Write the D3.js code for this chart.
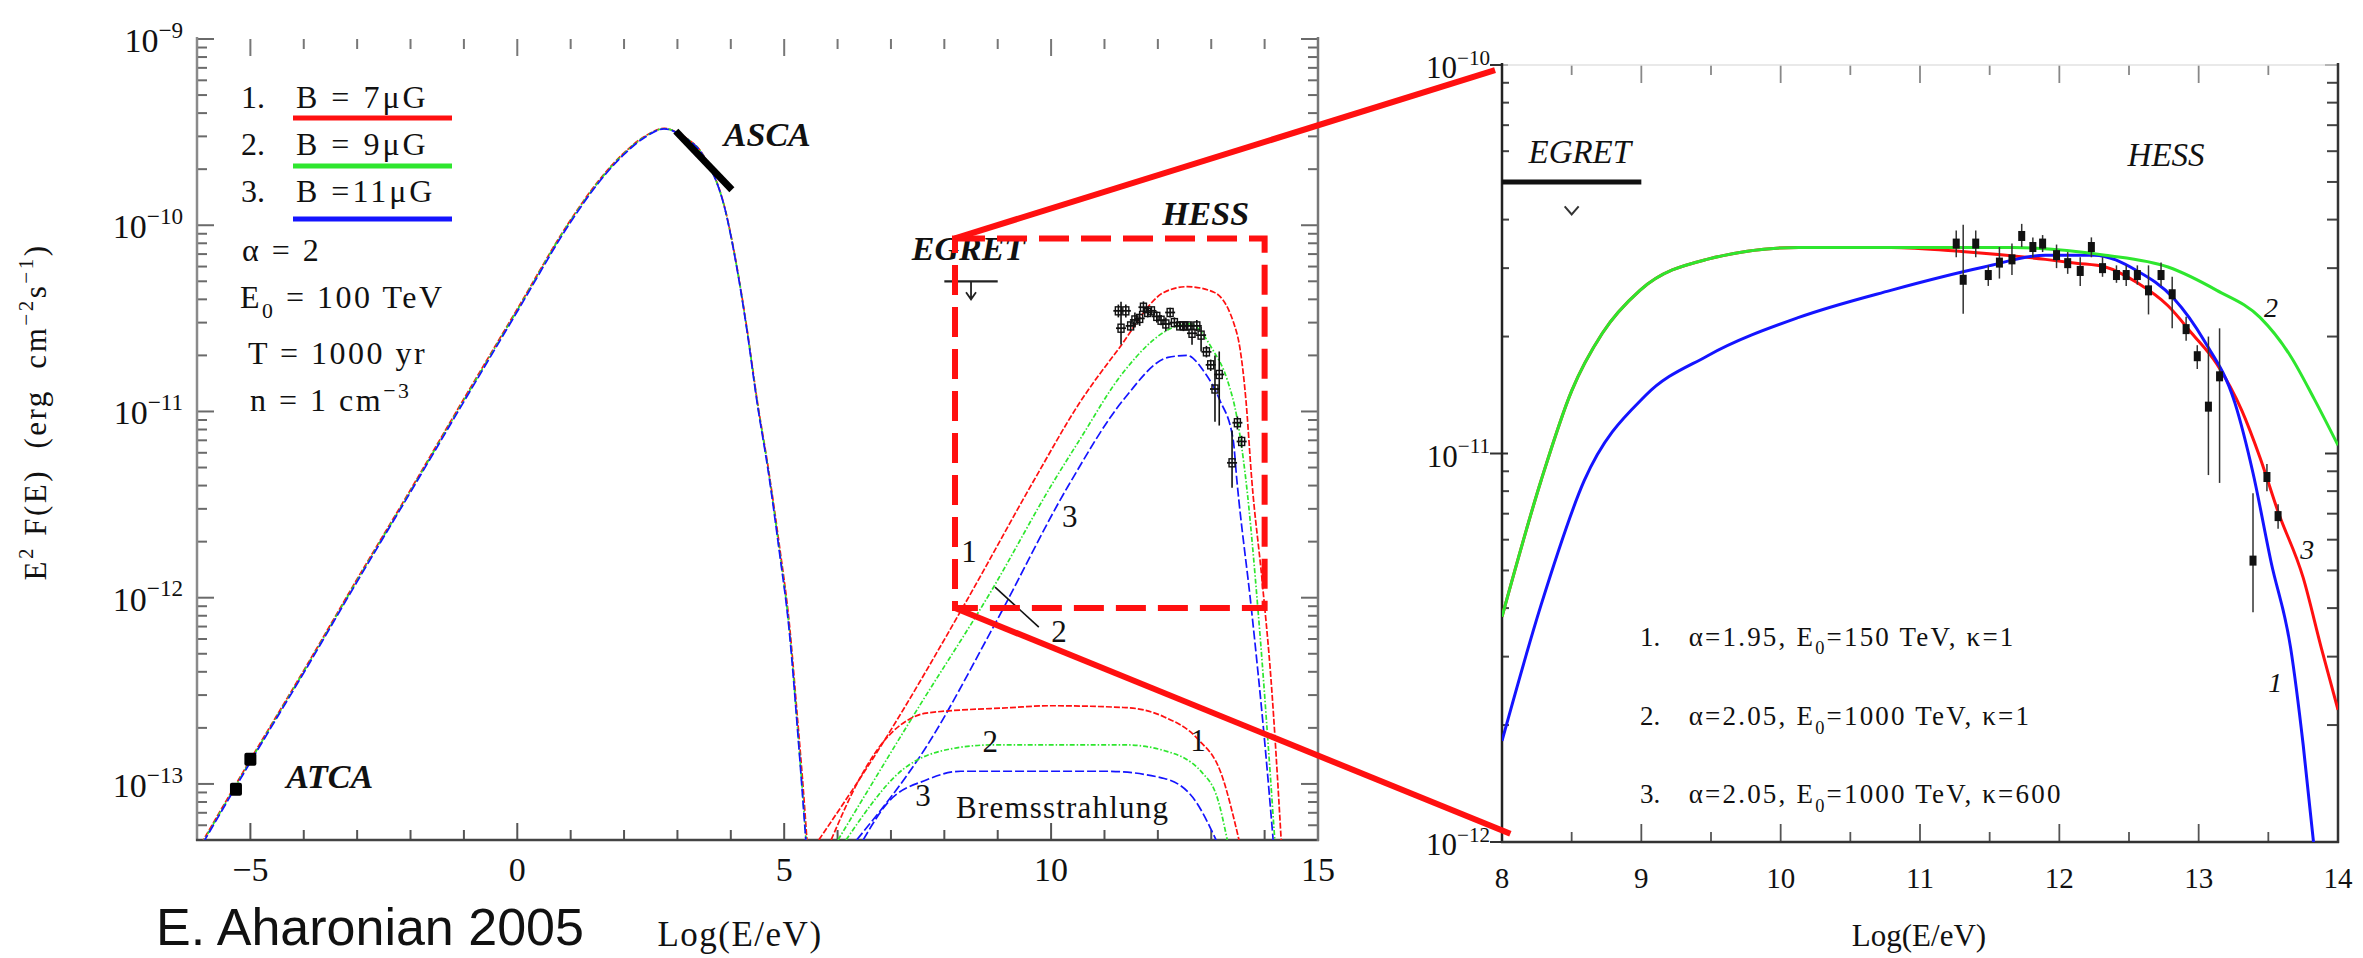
<!DOCTYPE html>
<html>
<head>
<meta charset="utf-8">
<script src="https://cdn.jsdelivr.net/npm/d3@7"></script>
<style>
  html, body { margin: 0; padding: 0; background: #fff; }
  svg { display: block; }
  text { font-family: "Liberation Serif", "Times New Roman", serif; fill: #111; white-space: pre; }
</style>
</head>
<body>
<svg id="fig" width="2363" height="958"></svg>
<script>
// ---------------- data (x: log10(E/eV), y: E^2 F(E) in erg cm^-2 s^-1) ----------------

// synchrotron component for the three field strengths
const syncLogE = [-6, -5, -4, -3, -2, -1, 0, 1.0, 1.5, 2.0, 2.4, 2.75, 3.1, 3.5, 3.9, 4.1, 4.3, 4.5, 4.7, 4.9, 5.1, 5.25, 5.35, 5.45];
const syncB7  = [4.37e-14, 1.35e-13, 4.07e-13, 1.26e-12, 3.80e-12, 1.17e-11, 3.55e-11, 1.07e-10, 1.70e-10, 2.45e-10, 3.02e-10, 3.31e-10, 3.02e-10, 2.34e-10, 1.20e-10, 6.31e-11, 2.82e-11, 1.12e-11, 5.01e-12, 2.00e-12, 7.08e-13, 2.24e-13, 1.00e-13, 3.98e-14];
const syncB9  = [4.30e-14, 1.33e-13, 4.01e-13, 1.24e-12, 3.74e-12, 1.15e-11, 3.50e-11, 1.06e-10, 1.68e-10, 2.43e-10, 3.00e-10, 3.30e-10, 3.01e-10, 2.33e-10, 1.19e-10, 6.25e-11, 2.78e-11, 1.10e-11, 4.90e-12, 1.90e-12, 6.60e-13, 2.00e-13, 8.50e-14, 3.40e-14];
const syncB11 = [4.24e-14, 1.31e-13, 3.95e-13, 1.22e-12, 3.69e-12, 1.13e-11, 3.44e-11, 1.04e-10, 1.66e-10, 2.40e-10, 2.98e-10, 3.29e-10, 3.00e-10, 2.32e-10, 1.19e-10, 6.20e-11, 2.75e-11, 1.08e-11, 4.80e-12, 1.85e-12, 6.40e-13, 1.95e-13, 8.20e-14, 3.30e-14];

// inverse Compton component
const icB7LogE  = [5.65, 6.87, 8.39, 9.68, 10.54, 11.25, 12.12, 12.55, 13.05, 13.48, 13.65, 13.76, 13.95, 14.12, 14.31];
const icB7      = [5.01e-14, 1.70e-13, 9.33e-13, 4.27e-12, 1.12e-11, 2.14e-11, 4.37e-11, 4.68e-11, 4.37e-11, 2.63e-11, 1.15e-11, 4.27e-12, 1.26e-12, 3.63e-13, 5.01e-14];
const icB9LogE  = [6.01, 7.45, 8.89, 10.04, 10.54, 11.35, 12.28, 12.60, 13.03, 13.30, 13.48, 13.65, 13.88, 14.19];
const icB9      = [5.01e-14, 2.40e-13, 1.10e-12, 4.17e-12, 7.08e-12, 1.62e-11, 2.82e-11, 2.95e-11, 2.14e-11, 1.48e-11, 9.33e-12, 4.27e-12, 8.32e-13, 5.01e-14];
const icB11LogE = [6.36, 7.66, 8.95, 10.32, 11.35, 12.19, 12.55, 12.85, 13.16, 13.41, 13.48, 13.76, 14.01, 14.16];
const icB11     = [5.01e-14, 1.58e-13, 7.24e-13, 3.98e-12, 1.15e-11, 1.95e-11, 2.00e-11, 1.66e-11, 1.15e-11, 7.08e-12, 4.27e-12, 8.32e-13, 1.58e-13, 5.01e-14];

// bremsstrahlung component
const brB7LogE  = [5.88, 6.4, 6.87, 7.3, 7.66, 9.25, 9.96, 11.40, 12.12, 12.75, 13.18, 13.52];
const brB7      = [5.01e-14, 1.05e-13, 1.70e-13, 2.19e-13, 2.40e-13, 2.57e-13, 2.63e-13, 2.57e-13, 2.29e-13, 1.74e-13, 1.15e-13, 5.01e-14];
const brB9LogE  = [6.16, 7.23, 8.16, 8.89, 11.40, 12.12, 12.83, 13.13, 13.30];
const brB9      = [5.01e-14, 1.20e-13, 1.55e-13, 1.62e-13, 1.62e-13, 1.51e-13, 1.15e-13, 8.13e-14, 5.01e-14];
const brB11LogE = [6.48, 6.94, 7.66, 8.31, 11.03, 12.12, 12.70, 13.09];
const brB11     = [5.01e-14, 7.94e-14, 1.05e-13, 1.17e-13, 1.17e-13, 1.07e-13, 8.13e-14, 5.01e-14];

// observations
const atcaLogE = [-5.27, -5.0];
const atcaFlux = [9.3e-14, 1.35e-13];
const ascaLogE = [2.97, 4.02];
const ascaFlux = [3.2e-10, 1.55e-10];
const egretLogE = [8, 9];
const egretFlux = 5.0e-11;
const hessLogE = [11.26, 11.31, 11.40, 11.49, 11.57, 11.66, 11.73, 11.81, 11.88, 11.98, 12.06, 12.15, 12.23, 12.31, 12.41, 12.48, 12.56, 12.64, 12.73, 12.81, 12.91, 12.99, 13.07, 13.15, 13.39, 13.49, 13.57];
const hessFlux = [3.47e-11, 2.80e-11, 3.47e-11, 2.88e-11, 3.10e-11, 3.16e-11, 3.63e-11, 3.40e-11, 3.47e-11, 3.24e-11, 3.09e-11, 2.95e-11, 3.40e-11, 3.00e-11, 2.88e-11, 2.88e-11, 2.88e-11, 2.63e-11, 2.88e-11, 2.57e-11, 2.09e-11, 1.78e-11, 1.32e-11, 1.58e-11, 5.30e-12, 8.70e-12, 6.90e-12];
const hessLow  = [3.20e-11, 2.29e-11, 3.20e-11, 2.70e-11, 2.82e-11, 2.88e-11, 3.40e-11, 3.20e-11, 3.30e-11, 3.00e-11, 2.90e-11, 2.70e-11, 3.20e-11, 2.85e-11, 2.75e-11, 2.70e-11, 2.72e-11, 2.28e-11, 2.70e-11, 2.10e-11, 1.95e-11, 1.65e-11, 8.80e-12, 8.40e-12, 3.90e-12, 8.00e-12, 6.40e-12];
const hessHigh = [3.75e-11, 3.88e-11, 3.75e-11, 3.05e-11, 3.40e-11, 3.47e-11, 3.90e-11, 3.60e-11, 3.65e-11, 3.45e-11, 3.30e-11, 3.20e-11, 3.60e-11, 3.20e-11, 3.05e-11, 3.05e-11, 3.05e-11, 3.05e-11, 3.10e-11, 2.85e-11, 2.25e-11, 1.90e-11, 2.00e-11, 2.10e-11, 7.90e-12, 9.40e-12, 7.40e-12];

// detail panel: pp model fits
const ppFit1LogE = [8.0, 8.28, 8.5, 8.72, 8.99, 9.47, 10.13, 10.79, 11.3, 11.9, 12.12, 12.33, 12.56, 12.78, 12.95, 13.13, 13.31, 13.44, 13.57, 13.75, 13.88, 14.0];
const ppFit1     = [3.80e-12, 8.51e-12, 1.45e-11, 2.04e-11, 2.63e-11, 3.16e-11, 3.39e-11, 3.39e-11, 3.31e-11, 3.16e-11, 3.09e-11, 3.02e-11, 2.75e-11, 2.40e-11, 2.04e-11, 1.70e-11, 1.29e-11, 9.77e-12, 7.08e-12, 4.79e-12, 3.16e-12, 2.19e-12];
const ppFit2LogE = [8.0, 8.28, 8.5, 8.72, 8.99, 9.47, 10.13, 10.79, 11.67, 12.33, 12.78, 13.13, 13.44, 13.66, 13.83, 14.0];
const ppFit2     = [3.80e-12, 8.51e-12, 1.45e-11, 2.04e-11, 2.63e-11, 3.16e-11, 3.39e-11, 3.39e-11, 3.39e-11, 3.24e-11, 3.02e-11, 2.63e-11, 2.24e-11, 1.78e-11, 1.38e-11, 1.05e-11];
const ppFit3LogE = [8.0, 8.28, 8.59, 9.03, 9.47, 10.13, 10.79, 11.46, 11.90, 12.25, 12.56, 12.82, 13.04, 13.26, 13.39, 13.52, 13.66, 13.75, 13.83];
const ppFit3     = [1.82e-12, 4.07e-12, 8.51e-12, 1.41e-11, 1.78e-11, 2.24e-11, 2.63e-11, 3.02e-11, 3.24e-11, 3.24e-11, 2.95e-11, 2.51e-11, 1.95e-11, 1.35e-11, 8.91e-12, 5.25e-12, 3.16e-12, 1.78e-12, 9.55e-13];

// zoomed region and its connectors
const zoomBoxLogE = [8.2, 14.0];
const zoomBoxFlux = [8.8e-13, 8.5e-11];
const connectorTopEnd = [7.95, 9.7e-11];
const connectorBottomEnd = [8.06, 1.05e-12];

// tick labels
const leftXTicks = [-5, 0, 5, 10, 15];
const leftYExp = [-13, -12, -11, -10, -9];
const rightXTicks = [8, 9, 10, 11, 12, 13, 14];
const rightYExp = [-12, -11, -10];

// ---------------- scales ----------------
const xL = d3.scaleLinear().domain([-6, 15]).range([197, 1318]);
const yL = d3.scaleLog().domain([5e-14, 1e-9]).range([840, 39]);
const xR = d3.scaleLinear().domain([8, 14]).range([1502, 2338]);
const yR = d3.scaleLog().domain([1e-12, 1e-10]).range([842, 65]);

const RED = "#ff1010", GREEN = "#2ee62e", BLUE = "#1414ff";

const svg = d3.select("#fig");
svg.append("rect").attr("width", 2363).attr("height", 958).attr("fill", "#fff");

const defs = svg.append("defs");
defs.append("clipPath").attr("id", "clipL").append("rect")
  .attr("x", 197).attr("y", 39).attr("width", 1318 - 197).attr("height", 840 - 39);
defs.append("clipPath").attr("id", "clipR").append("rect")
  .attr("x", 1502).attr("y", 65).attr("width", 2338 - 1502).attr("height", 842 - 65);

const zip = (xs, ys) => xs.map((x, i) => [x, ys[i]]);
const isDecade = v => Math.abs(Math.log10(v) - Math.round(Math.log10(v))) < 1e-6;
const minus = n => (n < 0 ? "\u2212" + Math.abs(n) : String(n));

function seg(g, x1, y1, x2, y2, color, w) {
  return g.append("line").attr("x1", x1).attr("y1", y1).attr("x2", x2).attr("y2", y2)
    .attr("stroke", color).attr("stroke-width", w);
}

// text with super/subscript pieces: parts = ["plain", ["sup text","sup"], ["sub text","sub"]]
function rich(parent, x, y, parts, size, attrs = {}) {
  const t = parent.append("text").attr("x", x).attr("y", y).attr("font-size", size);
  Object.entries(attrs).forEach(([k, v]) => t.attr(k, v));
  let off = 0;
  parts.forEach(p => {
    const [s, kind] = Array.isArray(p) ? p : [p, "n"];
    const target = kind === "sup" ? -0.42 * size : kind === "sub" ? 0.32 * size : 0;
    const ts = t.append("tspan").text(s).attr("dy", target - off);
    if (kind !== "n") ts.attr("font-size", size * 0.68);
    off = target;
  });
  return t;
}

// ================= left panel =================
const gL = svg.append("g");

// frame and ticks
const axL = gL.append("g").attr("stroke-linecap", "butt");
yL.ticks().forEach(v => {
  const y = yL(v), len = isDecade(v) ? 17 : 10;
  seg(axL, 197, y, 197 + len, y, "#6a6a6a", 2);
  seg(axL, 1318, y, 1318 - len, y, "#6a6a6a", 2);
});
d3.range(-6, 16).forEach(v => {
  const x = xL(v), len = v % 5 === 0 ? 17 : 10;
  seg(axL, x, 840, x, 840 - len, "#555", 2);
  seg(axL, x, 39, x, 39 + len, "#777", 2);
});
seg(axL, 197, 37, 197, 841, "#8a8a8a", 2.5);
seg(axL, 196, 840, 1319, 840, "#444", 2.5);
seg(axL, 1318, 37, 1318, 841, "#777", 2.5);

// tick labels
leftXTicks.forEach(v => {
  gL.append("text").attr("x", xL(v)).attr("y", 881).attr("text-anchor", "middle")
    .attr("font-size", 34).text(minus(v));
});
leftYExp.forEach(e => {
  rich(gL, 183, yL(Math.pow(10, e)) + 13, ["10", [minus(e), "sup"]], 34, { "text-anchor": "end" });
});

// axis titles
gL.append("text").attr("x", 740).attr("y", 946).attr("text-anchor", "middle")
  .attr("font-size", 35).attr("letter-spacing", 1.5).text("Log(E/eV)");
rich(gL, 0, 0, ["E", ["2", "sup"], " F(E)  (erg  cm", ["\u22122", "sup"], "s", ["\u22121", "sup"], ")"], 31,
  { "text-anchor": "middle", transform: "translate(46,412) rotate(-90)", "letter-spacing": 2.5 });

// model curves
const lineL = d3.line().x(d => xL(d[0])).y(d => yL(d[1])).curve(d3.curveMonotoneX);
const curvesL = gL.append("g").attr("clip-path", "url(#clipL)").attr("fill", "none").attr("stroke-width", 1.7);
const styles = [
  { c: BLUE, dash: "9,3" },
  { c: GREEN, dash: "5,2,1.5,2" },
  { c: RED, dash: "6,2" }
];
const brem = [[brB11LogE, brB11], [brB9LogE, brB9], [brB7LogE, brB7]];
const ic = [[icB11LogE, icB11], [icB9LogE, icB9], [icB7LogE, icB7]];
const sync = [syncB11, syncB9, syncB7];
[0, 1, 2].forEach(i => {
  curvesL.append("path").attr("d", lineL(zip(brem[i][0], brem[i][1])))
    .attr("stroke", styles[i].c).attr("stroke-dasharray", styles[i].dash);
  curvesL.append("path").attr("d", lineL(zip(ic[i][0], ic[i][1])))
    .attr("stroke", styles[i].c).attr("stroke-dasharray", styles[i].dash);
});
[2, 1, 0].forEach(i => {
  curvesL.append("path").attr("d", lineL(zip(syncLogE, sync[i])))
    .attr("stroke", styles[i].c).attr("stroke-dasharray", styles[i].dash);
});

// ASCA spectrum segment
gL.append("line")
  .attr("x1", xL(ascaLogE[0])).attr("y1", yL(ascaFlux[0]))
  .attr("x2", xL(ascaLogE[1])).attr("y2", yL(ascaFlux[1]))
  .attr("stroke", "#000").attr("stroke-width", 7);

// ATCA points
atcaLogE.forEach((e, i) => {
  gL.append("rect").attr("x", xL(e) - 6).attr("y", yL(atcaFlux[i]) - 7)
    .attr("width", 12).attr("height", 13).attr("rx", 2).attr("fill", "#000");
});

// HESS points
const hessL = gL.append("g");
hessLogE.forEach((e, i) => {
  const x = xL(e), y = yL(hessFlux[i]);
  seg(hessL, x, yL(hessLow[i]), x, yL(hessHigh[i]), "#111", 1.6);
  seg(hessL, x - 5, y, x + 5, y, "#111", 1.8);
  hessL.append("rect").attr("x", x - 3).attr("y", y - 4).attr("width", 6).attr("height", 8)
    .attr("fill", "none").attr("stroke", "#111").attr("stroke-width", 1.4);
});

// EGRET upper limit
const egL = gL.append("g");
seg(egL, xL(egretLogE[0]), yL(egretFlux), xL(egretLogE[1]), yL(egretFlux), "#222", 2.2);
{
  const xa = xL((egretLogE[0] + egretLogE[1]) / 2), y0 = yL(egretFlux), y1 = yL(egretFlux * 0.8);
  egL.append("path").attr("d", `M${xa},${y0} L${xa},${y1} M${xa - 5},${y1 - 7} L${xa},${y1} L${xa + 5},${y1 - 7}`)
    .attr("fill", "none").attr("stroke", "#222").attr("stroke-width", 1.8);
}

// legend
const legendEntries = [
  { n: "1.", label: ["B = 7\u03bcG"], color: RED, ty: 108, ly: 118 },
  { n: "2.", label: ["B = 9\u03bcG"], color: GREEN, ty: 155, ly: 166 },
  { n: "3.", label: ["B =11\u03bcG"], color: BLUE, ty: 202, ly: 219 }
];
legendEntries.forEach(d => {
  gL.append("text").attr("x", 241).attr("y", d.ty).attr("font-size", 32).text(d.n);
  rich(gL, 296, d.ty, d.label, 32, { "letter-spacing": 3 });
  seg(gL, 293, d.ly, 452, d.ly, d.color, 5);
});
rich(gL, 242, 261, ["\u03b1 = 2"], 32, { "letter-spacing": 2.5 });
rich(gL, 240, 308, ["E", ["0", "sub"], " = 100 TeV"], 32, { "letter-spacing": 2.5 });
rich(gL, 248, 364, ["T = 1000 yr"], 32, { "letter-spacing": 2.5 });
rich(gL, 250, 411, ["n = 1 cm", ["\u22123", "sup"]], 32, { "letter-spacing": 2.5 });

// instrument labels
const instLabels = [
  { t: "ASCA", e: 3.87, f: 2.66e-10 },
  { t: "ATCA", e: -4.33, f: 9.5e-14 },
  { t: "EGRET", e: 7.39, f: 6.5e-11 },
  { t: "HESS", e: 12.08, f: 1.0e-10 }
];
instLabels.forEach(d => {
  gL.append("text").attr("x", xL(d.e)).attr("y", yL(d.f)).attr("font-size", 34)
    .attr("font-weight", "bold").attr("font-style", "italic").text(d.t);
});

// curve numbers
const curveLabels = [
  { t: "1", e: 8.46, f: 1.55e-12 },
  { t: "3", e: 10.35, f: 2.40e-12 },
  { t: "2", e: 10.15, f: 5.75e-13 },
  { t: "1", e: 12.75, f: 1.51e-13 },
  { t: "2", e: 8.86, f: 1.48e-13 },
  { t: "3", e: 7.60, f: 7.6e-14 }
];
curveLabels.forEach(d => {
  gL.append("text").attr("x", xL(d.e)).attr("y", yL(d.f)).attr("text-anchor", "middle")
    .attr("font-size", 31).text(d.t);
});
seg(gL, xL(8.95), yL(1.14e-12), xL(9.77), yL(6.95e-13), "#111", 1.6);
gL.append("text").attr("x", xL(8.22)).attr("y", yL(6.6e-14)).attr("font-size", 31)
  .attr("letter-spacing", 1.2).text("Bremsstrahlung");

// zoom box
gL.append("rect")
  .attr("x", xL(zoomBoxLogE[0])).attr("y", yL(zoomBoxFlux[1]))
  .attr("width", xL(zoomBoxLogE[1]) - xL(zoomBoxLogE[0]))
  .attr("height", yL(zoomBoxFlux[0]) - yL(zoomBoxFlux[1]))
  .attr("fill", "none").attr("stroke", RED).attr("stroke-width", 6).attr("stroke-dasharray", "30,12");

// ================= right panel =================
const gR = svg.append("g");
const axR = gR.append("g");
yR.ticks().forEach(v => {
  const y = yR(v);
  if (isDecade(v)) {
    seg(axR, 1490, y, 1508, y, "#333", 2);
    seg(axR, 2338, y, 2325, y, "#333", 2);
  } else {
    seg(axR, 1502, y, 1509, y, "#444", 2);
    seg(axR, 2338, y, 2327, y, "#444", 2);
  }
});
d3.range(8, 14.01, 0.5).forEach(v => {
  const x = xR(v), major = Math.abs(v - Math.round(v)) < 1e-6, len = major ? 18 : 10;
  seg(axR, x, 842, x, 842 - len, "#555", 1.8);
  seg(axR, x, 65, x, 65 + len, "#888", 1.8);
});
seg(axR, 1502, 65, 2338, 65, "#e2e2e2", 1.5);
seg(axR, 1502, 63, 1502, 843, "#222", 2.5);
seg(axR, 1501, 842, 2339, 842, "#333", 2.5);
seg(axR, 2338, 63, 2338, 843, "#333", 2.5);

rightXTicks.forEach(v => {
  gR.append("text").attr("x", xR(v)).attr("y", 888).attr("text-anchor", "middle")
    .attr("font-size", 29).text(v);
});
rightYExp.forEach(e => {
  rich(gR, 1490, yR(Math.pow(10, e)) + 13, ["10", [minus(e), "sup"]], 31, { "text-anchor": "end" });
});
gR.append("text").attr("x", 1919).attr("y", 946).attr("text-anchor", "middle")
  .attr("font-size", 31).text("Log(E/eV)");

const lineR = d3.line().x(d => xR(d[0])).y(d => yR(d[1])).curve(d3.curveMonotoneX);
const curvesR = gR.append("g").attr("clip-path", "url(#clipR)").attr("fill", "none").attr("stroke-width", 3);
curvesR.append("path").attr("d", lineR(zip(ppFit1LogE, ppFit1))).attr("stroke", RED);
curvesR.append("path").attr("d", lineR(zip(ppFit3LogE, ppFit3))).attr("stroke", BLUE);
curvesR.append("path").attr("d", lineR(zip(ppFit2LogE, ppFit2))).attr("stroke", GREEN);

// HESS points (detail)
const hessR = gR.append("g");
hessLogE.forEach((e, i) => {
  const x = xR(e), y = yR(hessFlux[i]);
  seg(hessR, x, yR(hessLow[i]), x, yR(hessHigh[i]), "#333", 1.5);
  hessR.append("rect").attr("x", x - 3.5).attr("y", y - 5).attr("width", 7).attr("height", 10).attr("fill", "#111");
});

// EGRET upper limit (detail)
seg(gR, xR(egretLogE[0]), yR(egretFlux), xR(egretLogE[1]), yR(egretFlux), "#111", 5);
{
  const xa = xR((egretLogE[0] + egretLogE[1]) / 2), ya = yR(egretFlux * 0.84);
  gR.append("path").attr("d", `M${xa - 7},${ya - 5} L${xa},${ya + 3} L${xa + 7},${ya - 5}`)
    .attr("fill", "none").attr("stroke", "#333").attr("stroke-width", 2);
}

gR.append("text").attr("x", xR(8.19)).attr("y", yR(5.6e-11)).attr("font-size", 33)
  .attr("font-style", "italic").attr("fill", "#222").text("EGRET");
gR.append("text").attr("x", xR(12.49)).attr("y", yR(5.5e-11)).attr("font-size", 33)
  .attr("font-style", "italic").attr("fill", "#222").text("HESS");

const fitNumbers = [
  { t: "2", e: 13.52, f: 2.25e-11, c: "#222" },
  { t: "3", e: 13.78, f: 5.35e-12, c: "#222" },
  { t: "1", e: 13.55, f: 2.43e-12, c: "#c8c8c8" }
];
fitNumbers.forEach(d => {
  gR.append("text").attr("x", xR(d.e)).attr("y", yR(d.f)).attr("text-anchor", "middle")
    .attr("font-size", 28).attr("font-style", "italic").attr("fill", d.c).text(d.t);
});

const fitLegend = [
  { n: "1.", parts: ["\u03b1=1.95, E", ["0", "sub"], "=150 TeV, \u03ba=1"], f: 3.2e-12 },
  { n: "2.", parts: ["\u03b1=2.05, E", ["0", "sub"], "=1000 TeV, \u03ba=1"], f: 2.0e-12 },
  { n: "3.", parts: ["\u03b1=2.05, E", ["0", "sub"], "=1000 TeV, \u03ba=600"], f: 1.26e-12 }
];
fitLegend.forEach(d => {
  gR.append("text").attr("x", xR(8.99)).attr("y", yR(d.f)).attr("font-size", 27).attr("fill", "#222").text(d.n);
  rich(gR, xR(9.34), yR(d.f), d.parts, 27, { "letter-spacing": 2.2, fill: "#222" });
});

// connectors from the zoom box to the detail panel
const conn = svg.append("g");
seg(conn, xL(zoomBoxLogE[0]), yL(zoomBoxFlux[1]), xR(connectorTopEnd[0]), yR(connectorTopEnd[1]), RED, 6);
seg(conn, xL(zoomBoxLogE[0]), yL(zoomBoxFlux[0]), xR(connectorBottomEnd[0]), yR(connectorBottomEnd[1]), RED, 6);

// credit
svg.append("text").attr("x", 156).attr("y", 945).attr("font-size", 52)
  .style("font-family", "'Liberation Sans', Arial, sans-serif").attr("fill", "#111").text("E. Aharonian 2005");
</script>
</body>
</html>
